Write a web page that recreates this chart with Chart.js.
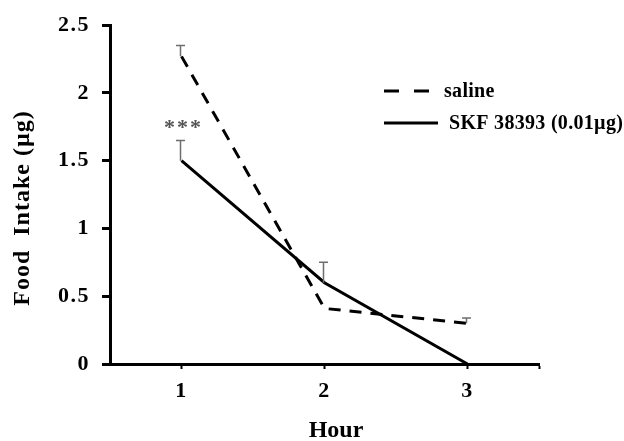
<!DOCTYPE html>
<html><head><meta charset="utf-8">
<script src="https://cdn.jsdelivr.net/npm/chart.js@4"></script>
<style>html,body{margin:0;padding:0;background:#fff}#wrap{width:624px;height:441px}</style>
</head><body><div id="wrap"><canvas id="c" width="624" height="441"></canvas></div>
<script>
const hours = [1, 2, 3];
const salineMean = [2.27, 0.41, 0.30];
const salineSEM = [0.08, 0, 0.04];
const skfMean = [1.50, 0.60, 0.00];
const skfSEM = [0.15, 0.15, 0];
const yTickValues = [0, 0.5, 1, 1.5, 2, 2.5];
const xTickValues = [1, 2, 3, 3.5];
const xTickLabels = ['1', '2', '3', ''];
const seriesLabels = ['saline', 'SKF 38393 (0.01µg)'];
const xTitle = 'Hour';
const yTitle = 'Food  Intake (µg)';
const sigMarks = [{ x: 1, y: 1.77, text: '***' }];

const FONT = '"Liberation Serif", "Times New Roman", serif';

const salineSeries = hours.map((h, i) => ({ x: h, y: salineMean[i] }));
const skfSeries = hours.map((h, i) => ({ x: h, y: skfMean[i] }));
const semSets = [salineSEM, skfSEM];

const extrasPlugin = {
  id: 'extras',
  beforeDraw(chart) {
    chart.ctx.letterSpacing = '1.5px';
  },
  afterDatasetsDraw(chart) {
    const ctx = chart.ctx, xs = chart.scales.x, ys = chart.scales.y;
    ctx.save();
    ctx.strokeStyle = '#6e6e6e';
    ctx.lineWidth = 1.5;
    chart.data.datasets.forEach((ds, di) => {
      const sem = semSets[di];
      ds.data.forEach((p, i) => {
        if (!sem[i]) return;
        const px = xs.getPixelForValue(p.x) - 1;
        const y0 = ys.getPixelForValue(p.y);
        const y1 = ys.getPixelForValue(p.y + sem[i]);
        ctx.beginPath();
        ctx.moveTo(px, y0); ctx.lineTo(px, y1);
        ctx.moveTo(px - 4.5, y1); ctx.lineTo(px + 4.5, y1);
        ctx.stroke();
      });
    });
    ctx.fillStyle = '#555';
    ctx.font = 'bold 22px ' + FONT;
    ctx.textAlign = 'center';
    ctx.textBaseline = 'middle';
    ctx.letterSpacing = '2px';
    sigMarks.forEach(m => {
      ctx.fillText(m.text, xs.getPixelForValue(m.x) + 2, ys.getPixelForValue(m.y) + 4);
    });
    ctx.restore();
  },
  afterDraw(chart) {
    const ctx = chart.ctx;
    ctx.save();
    ctx.letterSpacing = '0px';
    ctx.fillStyle = '#000';
    ctx.font = 'bold 24px ' + FONT;
    ctx.textAlign = 'center';
    ctx.textBaseline = 'middle';
    ctx.fillText(xTitle, 336, 431);
    ctx.translate(23, 208);
    ctx.rotate(-Math.PI / 2);
    ctx.letterSpacing = '1px';
    ctx.fillText(yTitle, 0, 0);
    ctx.restore();
    ctx.save();
    const rows = [{ y: 91, tx: 444, x2: 429 }, { y: 123, tx: 449, x2: 438 }];
    chart.data.datasets.forEach((ds, i) => {
      const r = rows[i];
      ctx.strokeStyle = '#000';
      ctx.lineWidth = 3;
      ctx.setLineDash(ds.borderDash && ds.borderDash.length ? [15, 15] : []);
      ctx.beginPath();
      ctx.moveTo(384, r.y); ctx.lineTo(r.x2, r.y);
      ctx.stroke();
      ctx.setLineDash([]);
      ctx.fillStyle = '#000';
      ctx.font = 'bold 20px ' + FONT;
      ctx.letterSpacing = '0.3px';
      ctx.textAlign = 'left';
      ctx.textBaseline = 'middle';
      ctx.fillText(ds.label, r.tx, r.y + 1);
    });
    ctx.restore();
    ctx.letterSpacing = '0px';
  }
};

new Chart(document.getElementById('c'), {
  type: 'line',
  data: {
    datasets: [
      { label: seriesLabels[0], data: salineSeries, borderColor: '#000', borderWidth: 3, borderDash: [12, 9], pointRadius: 0, tension: 0, fill: false },
      { label: seriesLabels[1], data: skfSeries, borderColor: '#000', borderWidth: 3, pointRadius: 0, tension: 0, fill: false }
    ]
  },
  options: {
    responsive: false,
    animation: false,
    layout: { padding: { left: 0, right: 85, top: 20, bottom: 0 } },
    plugins: { legend: { display: false }, tooltip: { enabled: false } },
    scales: {
      x: {
        type: 'linear', min: 0.5, max: 3.5,
        afterBuildTicks(s) { s.ticks = xTickValues.map(v => ({ value: v })); },
        afterFit(s) { s.height = 77; },
        grid: { drawOnChartArea: false, drawTicks: true, tickLength: 5, tickWidth: 2, tickColor: '#000' },
        border: { color: '#000', width: 3 },
        ticks: { color: '#000', font: { family: FONT, size: 22, weight: 'bold' }, padding: 9, maxRotation: 0,
          callback: (v, i) => xTickLabels[i] }
      },
      y: {
        min: 0, max: 2.5,
        afterBuildTicks(s) { s.ticks = yTickValues.map(v => ({ value: v })); },
        afterFit(s) { s.width = 110; },
        grid: { drawOnChartArea: false, drawTicks: true, tickLength: 8, tickWidth: 3, tickColor: '#000' },
        border: { color: '#000', width: 3 },
        ticks: { color: '#000', font: { family: FONT, size: 22, weight: 'bold' }, padding: 12,
          callback: (v) => String(v) }
      }
    }
  },
  plugins: [extrasPlugin]
});
</script></body></html>
